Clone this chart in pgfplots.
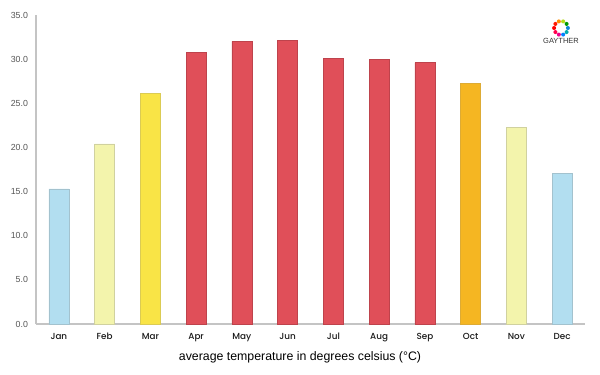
\documentclass[border=0pt]{standalone}
\usepackage{fontspec}
\setmainfont{Liberation Sans}
\newfontfamily\geo{Poppins Medium}
\usepackage{pgfplots}
\pgfplotsset{compat=1.18}
\usetikzlibrary{calc}
\definecolor{cblue}{HTML}{B2DEF0}
\definecolor{cpale}{HTML}{F3F4AC}
\definecolor{cyel}{HTML}{F9E446}
\definecolor{cred}{HTML}{E04F59}
\definecolor{corange}{HTML}{F5B622}
\definecolor{axgray}{HTML}{C4C4C4}
\definecolor{tgray}{HTML}{555555}
\begin{document}
\begin{tikzpicture}[x=1pt,y=1pt]
\useasboundingbox (0,0) rectangle (450,281.25);
\begin{axis}[
  at={(27pt,38.25pt)}, anchor=south west,
  scale only axis, width=411.75pt, height=231.75pt,
  ymin=0, ymax=35, xmin=-0.5, xmax=11.5,
  axis x line*=bottom, axis y line*=left,
  axis line style={axgray, line width=1.2pt, -},
  ytick={0,5,...,35},
  xtick={0,...,11},
  xticklabels={Jan,Feb,Mar,Apr,May,Jun,Jul,Aug,Sep,Oct,Nov,Dec},
  major tick length=0pt,
  /pgf/number format/assume math mode=true,
  yticklabel style={font=\fontsize{6.6}{7}\selectfont, text=tgray, xshift=-2.5pt, /pgf/number format/.cd, fixed, fixed zerofill, precision=1},
  xticklabel style={font=\geo\fontsize{6.6}{7}\selectfont, text=black!90, yshift=-3.5pt},
  ybar, bar width=15pt, bar shift=0pt,
  every axis plot/.append style={line width=0.5pt},
  clip=false,
]
\addplot[fill=cblue, draw=cblue!70!gray] coordinates {(0,15.3) (11,17.1)};
\addplot[fill=cpale, draw=cpale!70!gray] coordinates {(1,20.4) (10,22.3)};
\addplot[fill=cyel, draw=cyel!75!gray] coordinates {(2,26.1)};
\addplot[fill=cred, draw=cred!85!black] coordinates {(3,30.8) (4,32.0) (5,32.1) (6,30.1) (7,30.0) (8,29.6)};
\addplot[fill=corange, draw=corange!80!gray] coordinates {(9,27.3)};
\end{axis}
\node[font=\fontsize{9.25}{10}\selectfont] at (225,13.5) {average temperature in degrees celsius (°C)};
% logo
\foreach \a/\c in {0/cyan!70!blue,36/green!60!black,72/yellow!70!green,108/orange!90!yellow,144/red!80!orange,180/red,216/red!70!magenta,252/magenta,288/blue!50!cyan,324/cyan!60!green}{
  \fill[\c] ($(420.75,260.25)+(\a:5.2)$) circle (1.5);
}
\node[font=\fontsize{5.6}{6}\selectfont, text=black!80] at (420.75,250.6) {GAYTHER};
\end{tikzpicture}
\end{document}
